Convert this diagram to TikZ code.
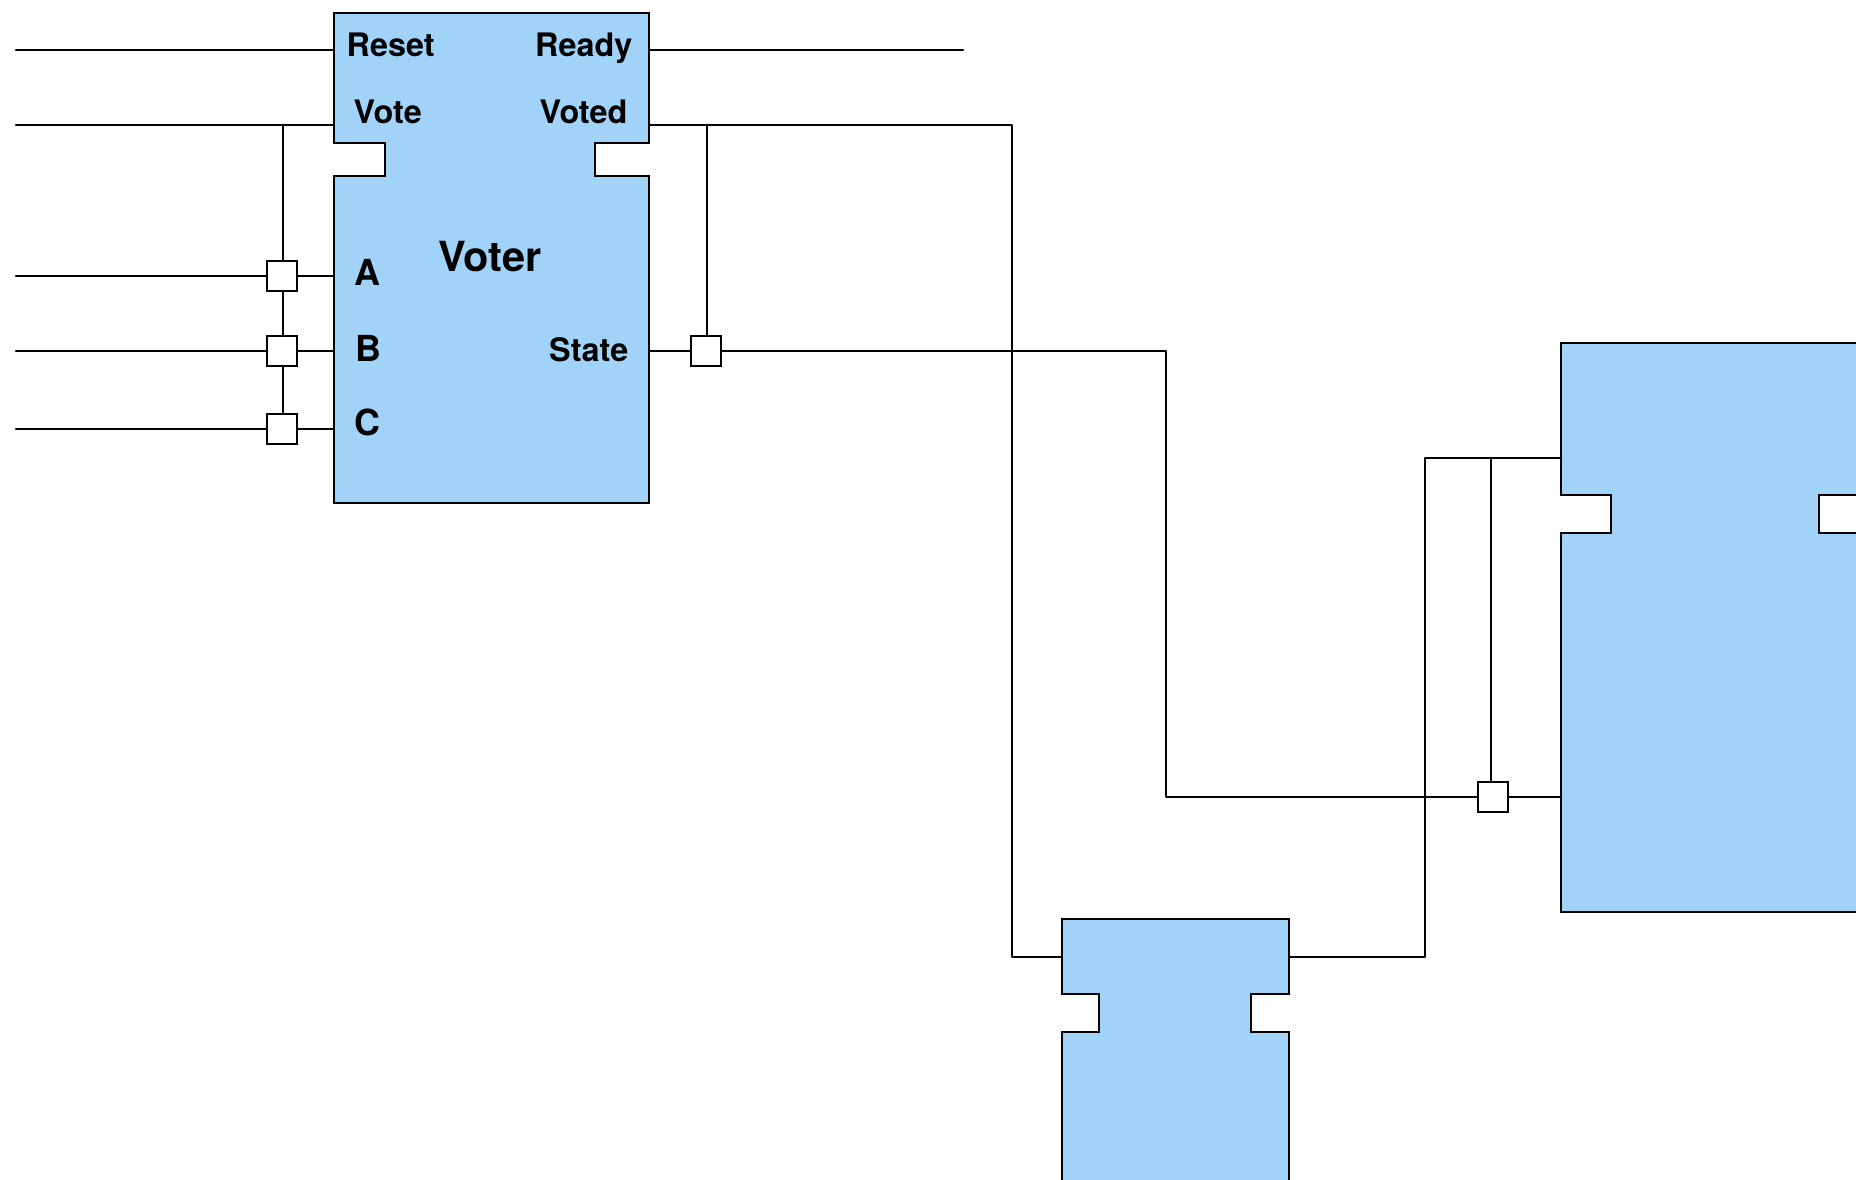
\documentclass[tikz,border=0pt]{standalone}
\usepackage{fontspec}
\setmainfont{TeX Gyre Heros}
\definecolor{blk}{HTML}{A1D3F9}
\begin{document}
\begin{tikzpicture}[x=0.01cm,y=-0.01cm,
  wire/.style={line width=0.75pt, line cap=round, line join=round},
  block/.style={fill=blk, draw=black, line width=0.75pt, line join=miter},
  junc/.style={draw=black, fill=white, line width=0.75pt, minimum width=0.3cm, minimum height=0.3cm, inner sep=0pt, outer sep=0pt},
  lbl/.style={font=\fontsize{9.2}{10}\selectfont\bfseries, inner sep=0pt},
  big/.style={font=\fontsize{10.2}{11}\selectfont\bfseries, inner sep=0pt},
  title/.style={font=\fontsize{11.8}{12}\selectfont\bfseries, inner sep=0pt}]
\useasboundingbox (0,0) rectangle (1856,1180);
\clip (0,0) rectangle (1856,1180);

% ---------- ports / coordinates ----------
\coordinate (resetIn) at (16,50);
\coordinate (reset) at (334,50);
\coordinate (ready) at (649,50);
\coordinate (readyOut) at (963,50);
\coordinate (voteIn) at (16,125);
\coordinate (vote) at (334,125);
\coordinate (voted) at (649,125);
\coordinate (aIn) at (16,276);
\coordinate (a) at (334,276);
\coordinate (bIn) at (16,351);
\coordinate (b) at (334,351);
\coordinate (cIn) at (16,429);
\coordinate (c) at (334,429);
\coordinate (busTop) at (283,125);
\coordinate (state) at (649,351);
\coordinate (tapTop) at (707,125);
\coordinate (votedTurn) at (1012,125);
\coordinate (votedDown) at (1012,957);
\coordinate (lowL) at (1062,957);
\coordinate (lowR) at (1289,957);
\coordinate (stateTurn) at (1166,351);
\coordinate (stateDown) at (1166,797);
\coordinate (rightIn2) at (1561,797);
\coordinate (rightIn1) at (1561,458);
\coordinate (rTurn) at (1425,458);
\coordinate (rDown) at (1425,957);
\coordinate (tap2Top) at (1491,458);

% ---------- blocks ----------
\path[block] (334,13) -- (649,13) -- (649,143) -- (595,143) -- (595,176) -- (649,176) -- (649,503) -- (334,503) -- (334,176) -- (385,176) -- (385,143) -- (334,143) -- cycle;
\path[block] (1561,343) -- (1869,343) -- (1869,495) -- (1819,495) -- (1819,533) -- (1869,533) -- (1869,912) -- (1561,912) -- (1561,533) -- (1611,533) -- (1611,495) -- (1561,495) -- cycle;
\path[block] (1062,919) -- (1289,919) -- (1289,994) -- (1251,994) -- (1251,1032) -- (1289,1032) -- (1289,1250) -- (1062,1250) -- (1062,1032) -- (1099,1032) -- (1099,994) -- (1062,994) -- cycle;

% ---------- junction boxes ----------
\node[junc] (ja) at (282,276) {};
\node[junc] (jb) at (282,351) {};
\node[junc] (jc) at (282,429) {};
\node[junc] (js) at (706,351) {};
\node[junc] (jr) at (1493,797) {};

% ---------- wires ----------
\draw[wire] (resetIn) -- (reset);
\draw[wire] (ready) -- (readyOut);
\draw[wire] (voteIn) -- (vote);
\draw[wire] (busTop) -- (ja.north -| busTop);
\draw[wire] (ja.south -| busTop) -- (jb.north -| busTop);
\draw[wire] (jb.south -| busTop) -- (jc.north -| busTop);
\draw[wire] (aIn) -- (ja.west); \draw[wire] (ja.east) -- (a);
\draw[wire] (bIn) -- (jb.west); \draw[wire] (jb.east) -- (b);
\draw[wire] (cIn) -- (jc.west); \draw[wire] (jc.east) -- (c);
\draw[wire] (voted) -- (votedTurn) -- (votedDown) -- (lowL);
\draw[wire] (tapTop) -- (js.north -| tapTop);
\draw[wire] (state) -- (js.west);
\draw[wire] (js.east) -- (stateTurn) -- (stateDown) -- (jr.west);
\draw[wire] (jr.east) -- (rightIn2);
\draw[wire] (rightIn1) -- (rTurn) -- (rDown) -- (lowR);
\draw[wire] (tap2Top) -- (jr.north -| tap2Top);
\node[junc] at (js) {};
\node[junc] at (jr) {};

% ---------- labels ----------
\node[lbl, anchor=base west] (lReset) at (346,57) {Reset};
\node[lbl, anchor=base east] (lReady) at (633,57) {Ready};
\node[lbl, anchor=base west] (lVote) at (353,124) {Vote};
\node[lbl, anchor=base east] (lVoted) at (628,124) {Voted};
\node[title, anchor=base] (lVoter) at (490,272) {Voter};
\node[big, anchor=base west] (lA) at (354,286) {A};
\node[big, anchor=base west] (lB) at (355,362) {B};
\node[big, anchor=base west] (lC) at (354,436) {C};
\node[lbl, anchor=base east] (lState) at (629,362) {State};
\end{tikzpicture}
\end{document}
